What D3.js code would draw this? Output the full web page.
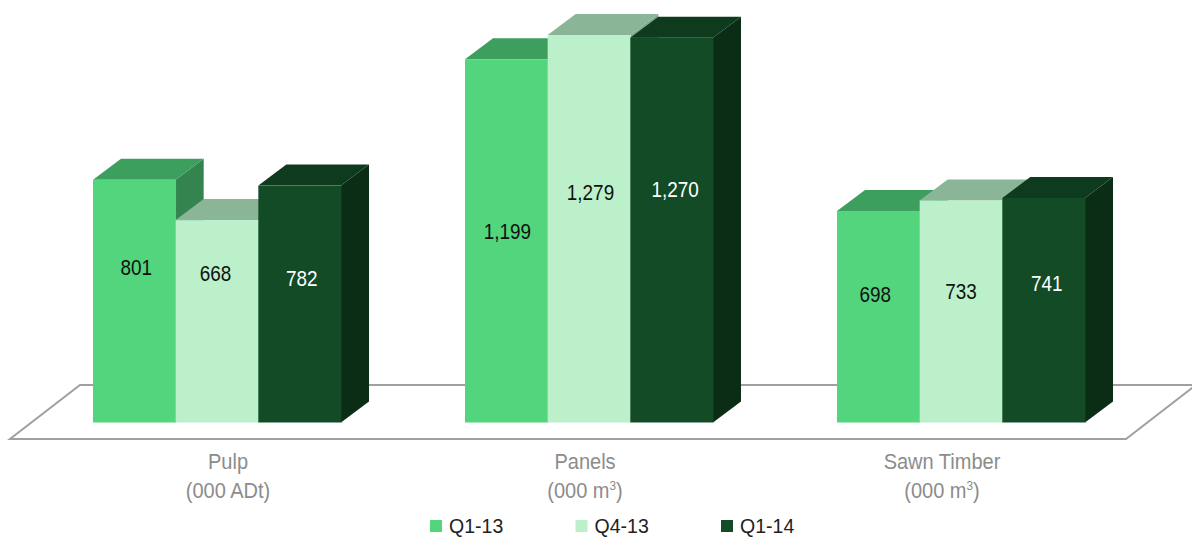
<!DOCTYPE html>
<html>
<head>
<meta charset="utf-8">
<script src="https://cdn.jsdelivr.net/npm/d3@7"></script>
<style>
  html, body { margin: 0; padding: 0; background: #fff; }
  svg { display: block; }
  text { font-family: "Liberation Sans", Arial, sans-serif; }
</style>
</head>
<body>
<svg id="chart" width="1192" height="538"></svg>
<script>
// Production volumes by product line and quarter
const categories = ["Pulp", "Panels", "Sawn Timber"];
const unitPrefix = ["(000 ADt", "(000 m", "(000 m"];
const unitPower = ["", "3", "3"];
const seriesNames = ["Q1-13", "Q4-13", "Q1-14"];
const q113 = [801, 1199, 698];
const q413 = [668, 1279, 733];
const q114 = [782, 1270, 741];
const seriesValues = [q113, q413, q114];

// Face shades per series
const frontFill = ["#52D57C", "#BBF0CB", "#134B26"];
const topFill = ["#3D9F5E", "#8AB597", "#0E3A1D"];
const sideFill = ["#33844E", "#7FA78C", "#0B2C15"];
const labelFill = ["#111", "#111", "#fff"];

// Label placement for each bar
const labelY = [[267, 273, 278], [231, 192, 189], [294, 291, 283]];
const labelNudge = [[2, -1.5, 2], [1, 1.5, 3.5], [-3, 0, 3]];

const svg = d3.select("#chart");
const baseY = 422.5, depthX = 28, depthY = 21;

const x0 = d3.scaleBand().domain(categories).range([93, 1085]).paddingInner(1 / 3).paddingOuter(0);
const x1 = d3.scaleBand().domain(d3.range(seriesNames.length)).range([0, x0.bandwidth()]);
const y = d3.scaleLinear().domain([0, 1279]).range([baseY, 35]);
const xLabel = d3.scalePoint().domain(categories).range([228, 942]);

// Horizontally condensed text, anchored in the middle
function condensed(sel, px, py, sx) {
  return sel.attr("transform", `translate(${px},${py}) scale(${sx},1)`);
}

// Floor plane
const floor = svg.append("g").attr("fill", "none").attr("stroke", "#A0A0A0").attr("stroke-width", 2);
floor.append("path").attr("d", d3.line()([[1198, 385], [80, 385], [10, 439], [1126, 439], [1196, 385]]));

// Bars: side and top faces first, then the front, series by series
const line = d3.line();
categories.forEach((cat, c) => {
  const g = svg.append("g").attr("class", "group");
  seriesValues.forEach((vals, s) => {
    const xl = x0(cat) + x1(s), xr = xl + x1.bandwidth(), top = y(vals[c]);
    g.append("path").attr("fill", sideFill[s]).attr("d", line([
      [xr, top], [xr + depthX, top - depthY], [xr + depthX, baseY - depthY], [xr, baseY]
    ]) + "Z");
    g.append("path").attr("fill", topFill[s]).attr("d", line([
      [xl, top], [xl + depthX, top - depthY], [xr + depthX, top - depthY], [xr, top]
    ]) + "Z");
    g.append("rect").attr("x", xl).attr("y", top).attr("width", x1.bandwidth() + 0.4)
      .attr("height", baseY - top).attr("fill", frontFill[s]);
  });
});

// Value labels sit on top of every bar
categories.forEach((cat, c) => {
  seriesValues.forEach((vals, s) => {
    svg.append("text")
      .call(condensed, x0(cat) + x1(s) + x1.bandwidth() / 2 + labelNudge[c][s], labelY[c][s] + 8, 0.86)
      .attr("text-anchor", "middle").attr("font-size", 22).attr("fill", labelFill[s])
      .text(d3.format(",")(vals[c]));
  });
});

// Category labels with units beneath
categories.forEach((cat, c) => {
  svg.append("text").call(condensed, xLabel(cat), 469, 0.91)
    .attr("text-anchor", "middle").attr("font-size", 22).attr("fill", "#8C8C8C").text(cat);
  const unit = svg.append("text").call(condensed, xLabel(cat), 498, 0.91)
    .attr("text-anchor", "middle").attr("font-size", 22).attr("fill", "#8C8C8C");
  unit.append("tspan").text(unitPrefix[c]);
  if (unitPower[c]) unit.append("tspan").attr("font-size", 13).attr("dy", -8).text(unitPower[c]);
  unit.append("tspan").attr("dy", unitPower[c] ? 8 : 0).text(")");
});

// Legend
const legendX = d3.scalePoint().domain(seriesNames).range([430, 721]);
seriesNames.forEach((name, s) => {
  svg.append("rect").attr("x", legendX(name)).attr("y", 520).attr("width", 12).attr("height", 12).attr("fill", frontFill[s]);
  svg.append("text").attr("text-anchor", "start")
    .call(condensed, legendX(name) + 19, 533, 0.93)
    .attr("font-size", 21).attr("fill", "#222").text(name);
});
</script>
</body>
</html>
